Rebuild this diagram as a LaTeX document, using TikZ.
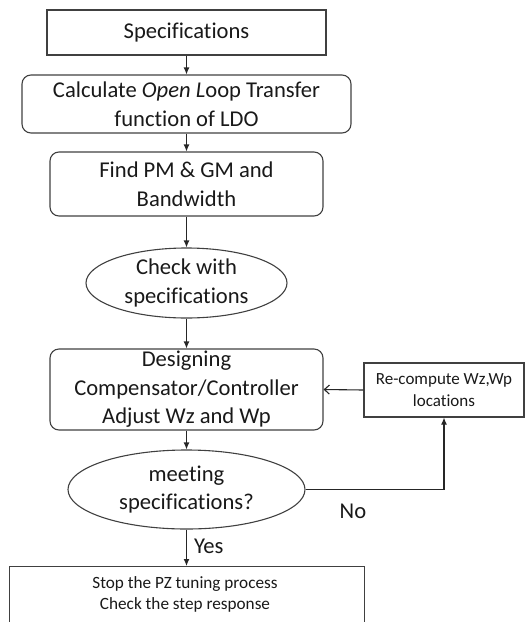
\documentclass[tikz,border=0pt]{standalone}
\usepackage{fontspec}
\setmainfont[Ligatures=CommonOff]{Carlito}
\usetikzlibrary{arrows.meta,shapes.geometric}
\begin{document}
\begin{tikzpicture}[x=1pt,y=-1pt,
  line width=1.1pt,
  every node/.style={text=black!90, align=center, inner sep=0pt},
  big/.style={font=\fontsize{22.6}{28.5}\selectfont},
  small/.style={font=\fontsize{17}{22}\selectfont},
  tiny/.style={font=\fontsize{17.2}{21}\selectfont},
  sqbox/.style={draw=black!75, rectangle},
  rbox/.style={draw=black!75, rectangle, rounded corners=9pt},
  oval/.style={draw=black!75, ellipse},
  flow/.style={draw=black!85, -{Latex[length=7pt,width=6pt]}},
  barb/.style={draw=black!85, -{Straight Barb[length=5pt,width=9pt]}}]
\useasboundingbox (0,0) rectangle (528,622);
\clip (0,0) rectangle (528,622);

% main column
\node[sqbox, big, minimum width=279pt, minimum height=45pt] (spec) at (186.5,32.5) {Specifications};
\node[rbox, big, minimum width=329pt, minimum height=58pt] (calc) at (186.5,104)
  {Calculate \textit{Open L}oop Transfer\\function of LDO};
\node[rbox, big, minimum width=273pt, minimum height=64pt] (pm) at (186.5,184)
  {Find PM \& GM and\\Bandwidth};
\node[oval, big, minimum width=201pt, minimum height=70pt] (check) at (186.5,283)
  {Check with\\specifications};
\node[rbox, big, minimum width=273pt, minimum height=81pt] (design) at (186.5,389.5)
  {Designing\\Compensator/Controller\\Adjust Wz and Wp};
\node[oval, big, minimum width=237pt, minimum height=79pt] (meet) at (186.5,489.5)
  {meeting\\specifications?};
\node[sqbox, minimum width=355pt, minimum height=90pt, anchor=north west] (stop) at (9,566) {};
\node[tiny] (stoptxt) at (185,594.5) {Stop the PZ tuning process\\Check the step response};

% feedback branch
\node[sqbox, small, minimum width=160pt, minimum height=54pt] (recomp) at (444,390)
  {Re-compute Wz,Wp\\locations};
\coordinate (corner) at (recomp.south |- meet.east);

% connectors
\draw[flow] (spec) -- (calc);
\draw[flow] (calc) -- (pm);
\draw[flow] (pm) -- (check);
\draw[flow] (check) -- (design);
\draw[flow] (design) -- (meet);
\draw[flow] (meet) -- node[big, right=7pt, pos=0.45] {Yes} (stop.north -| meet.south);
\draw[flow] (meet.east) -- (corner) -- (recomp.south);
\draw[barb] (recomp.west) -- (design.east);
\node[big] (no) at (353,511) {No};
\end{tikzpicture}
\end{document}
